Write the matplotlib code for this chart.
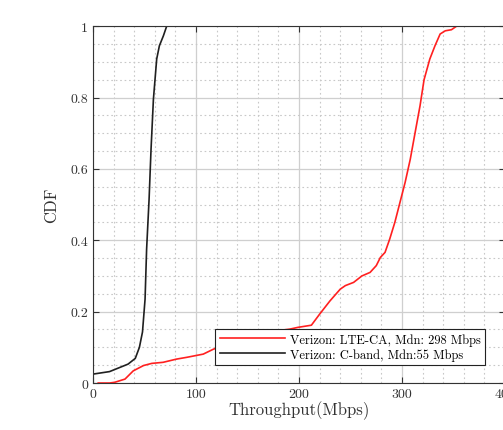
import matplotlib
matplotlib.use("Agg")
import matplotlib.pyplot as plt
from matplotlib.ticker import MultipleLocator

plt.rcParams['font.family'] = 'serif'
plt.rcParams['font.serif'] = ['cmr10']
plt.rcParams['mathtext.fontset'] = 'cm'
plt.rcParams['axes.formatter.use_mathtext'] = True

# C-band CDF (Mbps, CDF)
cband_x = [0, 0, 16, 34, 41, 45, 48, 50.5, 52, 54.4, 56.3, 58.6, 61.8, 64.4, 68.3, 71.5]
cband_y = [0, 0.025, 0.032, 0.053, 0.069, 0.10, 0.143, 0.235, 0.375, 0.515, 0.655,
           0.795, 0.908, 0.945, 0.973, 1.0]

# LTE-CA CDF
lte_x = [5, 16, 21, 31, 39, 49, 57, 68, 81, 91, 107, 117, 150, 175, 191, 199, 212,
         220, 230, 240, 245, 253, 261, 269, 275, 279, 283.5, 288, 293, 298, 303, 308,
         312.6, 317.5, 321.4, 327, 332, 337, 342, 348, 353]
lte_y = [0, 0, 0.002, 0.011, 0.034, 0.049, 0.055, 0.058, 0.067, 0.072, 0.081, 0.095,
         0.125, 0.145, 0.151, 0.156, 0.162, 0.193, 0.23, 0.263, 0.273, 0.282, 0.30,
         0.31, 0.329, 0.352, 0.366, 0.403, 0.45, 0.506, 0.562, 0.627, 0.70, 0.777,
         0.85, 0.908, 0.945, 0.978, 0.987, 0.99, 1.0]

xticks = [0, 100, 200, 300, 400]
yticks = [0, 0.2, 0.4, 0.6, 0.8, 1]
ytick_labels = ['0', '0.2', '0.4', '0.6', '0.8', '1']

fig = plt.figure(figsize=(5.03, 4.31), dpi=100)
ax = fig.add_axes([0.185, 0.109, 0.819, 0.828])

ax.plot(lte_x, lte_y, color='#ff2020', lw=1.2, label='Verizon: LTE-CA, Mdn: 298 Mbps')
ax.plot(cband_x, cband_y, color='#202020', lw=1.2, label='Verizon: C-band, Mdn:55 Mbps')

ax.set_xlim(0, 400)
ax.set_ylim(0, 1)
ax.set_xticks(xticks, [str(t) for t in xticks])
ax.set_yticks(yticks, ytick_labels)
ax.xaxis.set_minor_locator(MultipleLocator(20))
ax.yaxis.set_minor_locator(MultipleLocator(0.05))

ax.grid(which='major', color='#cfcfcf', lw=0.9, ls='-')
ax.grid(which='minor', color='#c8c8c8', lw=0.8, ls=(0, (1.5, 2.5)))
ax.set_axisbelow(True)

ax.tick_params(which='both', direction='in', top=True, right=True, colors='#333333',
               labelsize=10)
ax.tick_params(which='major', length=4)
ax.tick_params(which='minor', length=0)
for s in ax.spines.values():
    s.set_color('#333333')
    s.set_linewidth(0.8)

ax.set_xlabel('Throughput(Mbps)', fontsize=12, labelpad=0, color='#333333')
ax.set_ylabel('CDF', fontsize=12, labelpad=8, color='#333333')

leg = ax.legend(loc='lower right', bbox_to_anchor=(0.951, 0.05), fontsize=9,
                fancybox=False, edgecolor='#222222', framealpha=1, handlelength=5.2,
                borderpad=0.35, labelspacing=0.2, handletextpad=0.4, borderaxespad=0)
leg.get_frame().set_linewidth(0.8)

fig.savefig('out.png', dpi=100)
